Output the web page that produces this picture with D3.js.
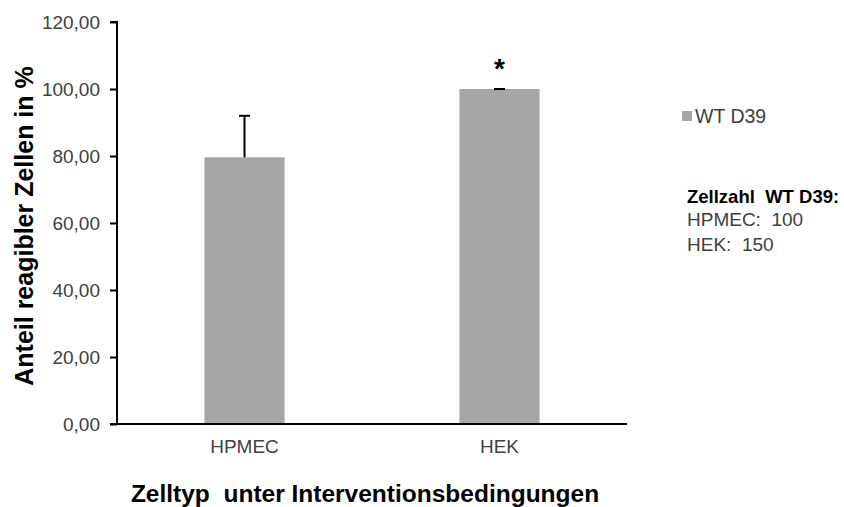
<!DOCTYPE html>
<html><head><meta charset="utf-8">
<script src="https://cdn.jsdelivr.net/npm/d3@7"></script>
<style>body{margin:0;background:#fff;} text{font-family:"Liberation Sans",Arial,sans-serif;white-space:pre;}</style>
</head><body>
<svg id="c" width="844" height="507"></svg>
<script>
const categories = ["HPMEC", "HEK"];
const values = [79.6, 100.0];
const errors = [12.4, 0.0];
const significance = ["", "*"];
const yTicks = [0, 20, 40, 60, 80, 100, 120];
const seriesName = "WT D39";
const noteTitle = "Zellzahl  WT D39:";
const noteLines = ["HPMEC:  100", "HEK:  150"];

const svg = d3.select("#c");
const x0 = 117, x1 = 627, yTop = 22, yBot = 424;
const x = d3.scaleBand().domain(categories).range([x0, x1]).paddingInner(0.686).paddingOuter(0.343);
const y = d3.scaleLinear().domain([0, 120]).range([yBot, yTop]);
const fmt = v => d3.format(".2f")(v).replace(".", ",");
const FF = '"Liberation Sans",Arial,sans-serif';

// bars
svg.selectAll("rect.bar").data(categories).join("rect")
  .attr("x", d => x(d)).attr("width", x.bandwidth())
  .attr("y", (d,i) => y(values[i])).attr("height", (d,i) => y(0) - y(values[i]))
  .attr("fill", "#a6a6a6");

// error bars
categories.forEach((c, i) => {
  const cx = x(c) + x.bandwidth()/2;
  const top = y(values[i] + errors[i]);
  svg.append("line").attr("x1", cx).attr("x2", cx).attr("y1", y(values[i])).attr("y2", top)
    .attr("stroke", "#000").attr("stroke-width", 2);
  svg.append("line").attr("x1", cx-5.5).attr("x2", cx+5.5).attr("y1", top).attr("y2", top)
    .attr("stroke", "#000").attr("stroke-width", 2);
  if (significance[i]) {
    svg.append("text").attr("x", cx).attr("y", top - 11).attr("text-anchor", "middle")
      .style("font-size", "28px").style("font-weight", "bold").attr("fill", "#000").text(significance[i]);
  }
});

// y axis
const yAxis = svg.append("g").attr("transform", `translate(${x0},0)`)
  .call(d3.axisLeft(y).tickValues(yTicks).tickFormat(fmt).tickSize(7).tickPadding(10));
yAxis.select(".domain").attr("stroke", "#000").attr("stroke-width", 2).attr("d", `M-7,${yTop}H0V${yBot}`);
yAxis.selectAll(".tick line").attr("stroke", "#000").attr("stroke-width", 2);
yAxis.selectAll(".tick text").style("font-size", "19px").style("font-family", FF).attr("fill", "#404040");

// x axis
const xAxis = svg.append("g").attr("transform", `translate(0,${yBot})`)
  .call(d3.axisBottom(x).tickSize(0).tickPadding(16));
xAxis.select(".domain").attr("stroke", "#000").attr("stroke-width", 2).attr("d", `M${x0-7},0H${x1}`);
xAxis.selectAll(".tick text").style("font-size", "19px").style("font-family", FF).attr("fill", "#404040");

// axis titles
svg.append("text").attr("transform", `translate(33,226) rotate(-90)`).attr("text-anchor", "middle")
  .style("font-size", "25px").style("font-weight", "bold").attr("fill", "#000")
  .text("Anteil reagibler Zellen in %");
svg.append("text").attr("x", 365).attr("y", 502).attr("text-anchor", "middle")
  .style("font-size", "24.5px").style("font-weight", "bold").attr("fill", "#000")
  .text("Zelltyp  unter Interventionsbedingungen");

// legend
svg.append("rect").attr("x", 682).attr("y", 111).attr("width", 10).attr("height", 10).attr("fill", "#a6a6a6");
svg.append("text").attr("x", 695).attr("y", 123).style("font-size", "19.5px").attr("fill", "#404040").text(seriesName);

// note
svg.append("text").attr("x", 687).attr("y", 203).style("font-size", "18.5px").style("font-weight", "bold").attr("fill", "#000").text(noteTitle);
noteLines.forEach((t, i) => {
  svg.append("text").attr("x", 687).attr("y", 226 + i*24.5).style("font-size", "19px").attr("fill", "#404040").text(t);
});
</script>
</body></html>
